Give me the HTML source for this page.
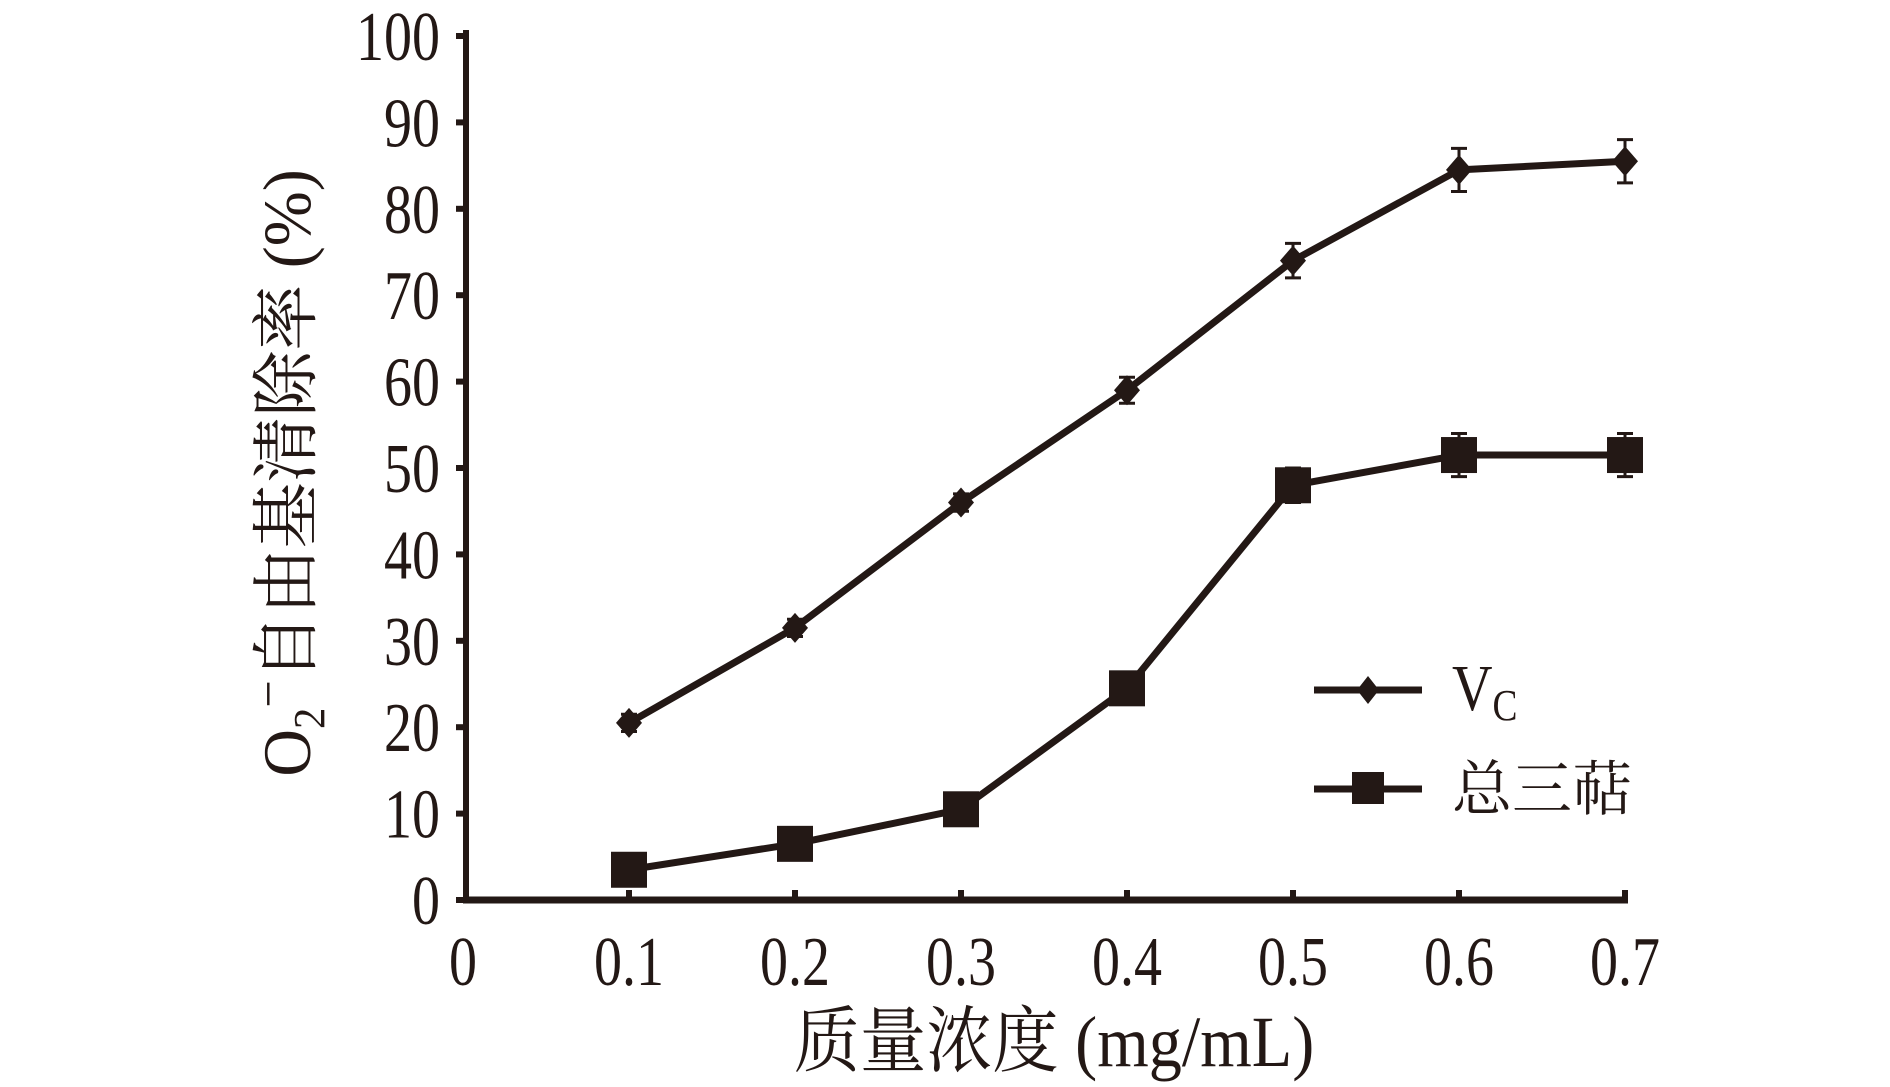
<!DOCTYPE html>
<html><head><meta charset="utf-8"><style>
html,body{margin:0;padding:0;background:#fff;}
svg{display:block;}
text{font-family:"Liberation Serif","Noto Serif CJK SC",serif;fill:#231815;}
</style></head><body>
<svg id="chart" width="1890" height="1087" viewBox="0 0 1890 1087" xmlns="http://www.w3.org/2000/svg">
<g id="axes"></g>
<g id="series"></g>
<text transform="translate(1054,1066) scale(0.92,1)" font-size="72" text-anchor="middle">质量浓度 (mg/mL)</text>
<text transform="translate(310,473) rotate(-90) scale(0.97,1)" font-size="68" text-anchor="middle">O<tspan font-size="44" dy="14">2</tspan><tspan font-size="50" dy="-39">−</tspan><tspan dy="25">自由基清除率 (%)</tspan></text>
<g>
<line x1="1314" y1="690" x2="1422" y2="690" stroke="#231815" stroke-width="7"/>
<path d="M1368 676 L1379 690 L1368 704 L1357 690Z" fill="#231815"/>
<text transform="translate(1452,710) scale(0.85,1)" font-size="66">V<tspan font-size="44" dy="10">C</tspan></text>
<line x1="1314" y1="789" x2="1422" y2="789" stroke="#231815" stroke-width="7"/>
<rect x="1352" y="772" width="32" height="32" fill="#231815"/>
<text transform="translate(1452,810)" font-size="60">总三萜</text>
</g>
</svg>
<script>
const xCats=[0.1,0.2,0.3,0.4,0.5,0.6,0.7];
const vcVals=[20.5,31.5,46,59,74,84.5,85.5];
const vcErr=[1,1,1,1.5,2,2.5,2.5];
const totVals=[3.5,6.5,10.5,24.5,48,51.5,51.5];
const totErr=[1,1,1,1,2,2.5,2.5];
const yTicks=[0,10,20,30,40,50,60,70,80,90,100];
const xTicks=[0,0.1,0.2,0.3,0.4,0.5,0.6,0.7];
const xTickLabels=["0","0.1","0.2","0.3","0.4","0.5","0.6","0.7"];

const NS="http://www.w3.org/2000/svg";
const X=v=>463+v*1660;
const Y=v=>900-v*8.64;
function mk(tag,attrs,parent){const e=document.createElementNS(NS,tag);for(const k in attrs)e.setAttribute(k,attrs[k]);parent.appendChild(e);return e;}
const ax=document.getElementById('axes');
const se=document.getElementById('series');
let l=mk('line',{x1:X(0)+3,y1:Y(0),x2:X(0)+3,y2:Y(100)-6,stroke:'#231815','stroke-width':6},ax);


l=mk('line',{x1:X(0),y1:Y(0),x2:X(0.7)+3,y2:Y(0),stroke:'#231815','stroke-width':7},ax);


yTicks.forEach(t=>{
  const tk=mk('line',{x1:X(0)-7,y1:Y(t),x2:X(0),y2:Y(t),stroke:'#231815','stroke-width':6},ax);
  
  
  const tx=mk('text',{transform:`translate(440,${Y(t)+24}) scale(0.8,1)`,'font-size':70,'text-anchor':'end'},ax);
  tx.textContent=String(t);
  
  
});
xTicks.forEach((t,i)=>{
  if(t>0){const tk=mk('line',{x1:X(t),y1:Y(0),x2:X(t),y2:Y(0)-10,stroke:'#231815','stroke-width':6},ax);
  
  }
  const tx=mk('text',{transform:`translate(${X(t)},985) scale(0.8,1)`,'font-size':70,'text-anchor':'middle'},ax);
  tx.textContent=xTickLabels[i];
  
  
});
function series(vals,errs,name,square){
  const g=mk('g',{},se);
  
  
  const pl=mk('polyline',{points:vals.map((v,i)=>X(xCats[i])+','+Y(v)).join(' '),fill:'none',stroke:'#231815','stroke-width':7,'stroke-linejoin':'round'},g);
  
  
  vals.forEach((v,i)=>{
    const x=X(xCats[i]),y=Y(v),e=errs[i]*8.64;
    const eb=mk('path',{d:`M${x} ${y-e}V${y+e}M${x-8} ${y-e}H${x+8}M${x-8} ${y+e}H${x+8}`,stroke:'#231815','stroke-width':3,fill:'none'},g);
    
    
    let m;
    if(square) m=mk('rect',{x:x-18,y:y-18,width:36,height:36,fill:'#231815'},g);
    else m=mk('path',{d:`M${x} ${y-15}L${x+13} ${y}L${x} ${y+15}L${x-13} ${y}Z`,fill:'#231815'},g);
    
    
  });
}
series(vcVals,vcErr,'vc',false);
series(totVals,totErr,'total-triterpenes',true);
</script>
</body></html>
